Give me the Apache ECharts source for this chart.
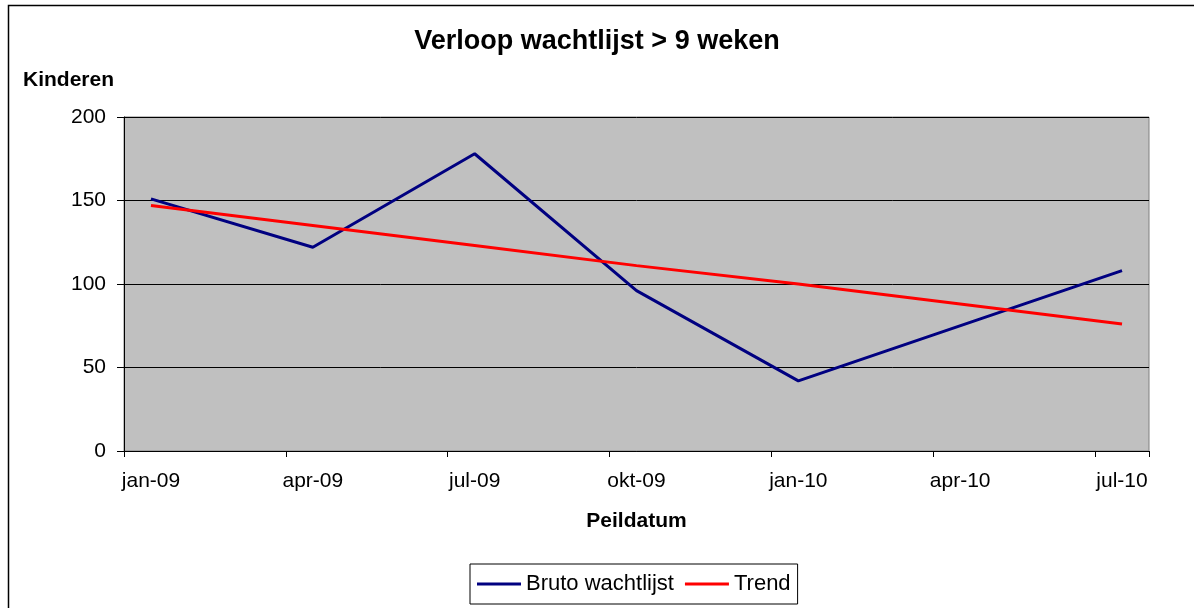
<!DOCTYPE html>
<html>
<head>
<meta charset="utf-8">
<script src="https://cdn.jsdelivr.net/npm/echarts@6/dist/echarts.min.js"></script>
<style>
html,body{margin:0;padding:0;background:#fff;}
#chart{width:1194px;height:608px;}
</style>
</head>
<body>
<div id="chart"></div>
<script>
// Months (one category per month); labels shown every third month
const months = ['jan-09','feb-09','mrt-09','apr-09','mei-09','jun-09','jul-09','aug-09','sep-09','okt-09','nov-09','dec-09','jan-10','feb-10','mrt-10','apr-10','mei-10','jun-10','jul-10'];
// Bruto wachtlijst (kinderen), measured on peildata
const brutoValues = [151,null,null,122,null,null,178,null,null,96,null,null,42,null,null,null,null,null,108];
// Trend line
const trendValues = [147,null,null,135,null,null,123,null,null,111,null,null,100,null,null,null,null,null,76];
const yTicks = [0,50,100,150,200];

const FONT = '"Liberation Sans", Arial, sans-serif';
const chart = echarts.init(document.getElementById('chart'), null, {renderer:'canvas'});
chart.setOption({
  animation:false,
  backgroundColor:'#fff',
  title:{
    text:'Verloop wachtlijst > 9 weken',
    left:'center', top:28, padding:[0,0,0,16],
    textStyle:{fontFamily:FONT, fontSize:27, fontWeight:'bold', color:'#000'}
  },
  legend:{
    left:470, top:564,
    padding:[9,7,9,7],
    borderColor:'#000', borderWidth:1,
    itemGap:11, itemWidth:44, itemHeight:3,
    icon:'rect',
    textStyle:{fontFamily:FONT, fontSize:22, color:'#000'},
    data:['Bruto wachtlijst','Trend']
  },
  grid:{
    left:124, top:117, width:1025, height:334,
    show:true, backgroundColor:'#C0C0C0', borderColor:'#808080', borderWidth:1
  },
  xAxis:{
    type:'category', data:months, boundaryGap:true,
    name:'Peildatum', nameLocation:'middle', nameGap:70,
    nameTextStyle:{fontFamily:FONT, fontSize:21, fontWeight:'bold', color:'#000', verticalAlign:'middle'},
    axisLine:{lineStyle:{color:'#000', width:1}},
    axisTick:{show:true, interval:2, length:6, lineStyle:{color:'#000'}},
    axisLabel:{interval:2, margin:20, fontFamily:FONT, fontSize:21, color:'#000'},
    splitLine:{show:false}
  },
  yAxis:{
    type:'value', min:0, max:200, interval:50,
    name:'Kinderen', nameLocation:'end', nameGap:37,
    nameTextStyle:{fontFamily:FONT, fontSize:21, fontWeight:'bold', color:'#000', align:'right', verticalAlign:'middle', padding:[0,10,0,0]},
    axisLine:{show:true, lineStyle:{color:'#000', width:1}},
    axisTick:{show:true, length:7, lineStyle:{color:'#000'}},
    axisLabel:{margin:18, fontFamily:FONT, fontSize:21, color:'#000',
      formatter:function(v){ return yTicks.indexOf(v) >= 0 ? String(v) : ''; }},
    splitLine:{show:true, lineStyle:{color:'#000', width:1}}
  },
  graphic:[{
    type:'rect', silent:true, z:-10,
    shape:{x:8.5, y:5.5, width:1200, height:620},
    style:{fill:null, stroke:'#000', lineWidth:1.5}
  }],
  series:[
    {name:'Bruto wachtlijst', type:'line', data:brutoValues, connectNulls:true,
     showSymbol:false, symbol:'none', lineStyle:{color:'#000080', width:3}, itemStyle:{color:'#000080'}},
    {name:'Trend', type:'line', data:trendValues, connectNulls:true,
     showSymbol:false, symbol:'none', lineStyle:{color:'#FF0000', width:3}, itemStyle:{color:'#FF0000'}}
  ]
});
</script>
</body>
</html>
